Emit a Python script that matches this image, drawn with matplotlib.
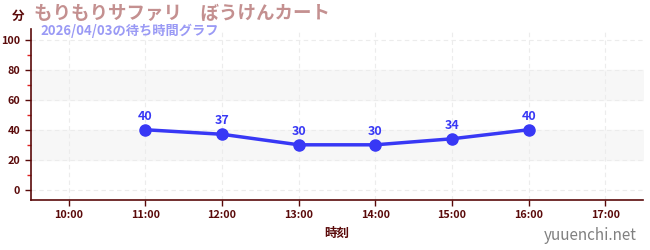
import matplotlib.pyplot as plt
from matplotlib.ticker import MultipleLocator

plt.rcParams['font.family'] = ['Noto Sans CJK JP', 'DejaVu Sans']

hours = [11, 12, 13, 14, 15, 16]
waits = [40, 37, 30, 30, 34, 40]
tick_hours = [10, 11, 12, 13, 14, 15, 16, 17]
tick_labels = ["10:00", "11:00", "12:00", "13:00", "14:00", "15:00", "16:00", "17:00"]
y_ticks = [0, 20, 40, 60, 80, 100]
bands = [(20, 40), (60, 80)]

title = "もりもりサファリ　ぼうけんカート"
subtitle = "2026/04/03の待ち時間グラフ"

axis_color = "#5a0a0a"
line_color = "#3838f5"

fig = plt.figure(figsize=(6.5, 2.5), dpi=100)
ax = fig.add_axes([0.047, 0.2, 0.943, 0.684])

for lo, hi in bands:
    ax.axhspan(lo, hi, color="#f7f7f7", zorder=0)

ax.plot(hours, waits, color=line_color, lw=2.5, marker="o", ms=8, zorder=3)
for h, w in zip(hours, waits):
    ax.annotate(str(w), (h, w), xytext=(0, 5), textcoords="offset points",
                ha="center", va="bottom", color=line_color, fontsize=9,
                fontweight="bold")

ax.set_xlim(9.5, 17.5)
ax.set_ylim(-6.7, 107)
ax.set_xticks(tick_hours)
ax.set_xticklabels(tick_labels)
ax.set_yticks(y_ticks)
ax.yaxis.set_minor_locator(MultipleLocator(10))

ax.grid(True, which="major", color="#ececec", ls=(0, (4, 3)), lw=0.8)
ax.set_axisbelow(True)

for side in ["top", "right"]:
    ax.spines[side].set_visible(False)
for side in ["left", "bottom"]:
    ax.spines[side].set_color(axis_color)
    ax.spines[side].set_linewidth(1.2)

ax.tick_params(axis="both", which="major", colors=axis_color, labelsize=7.8,
               length=4, width=1)
ax.tick_params(axis="y", which="minor", color="#e02020", length=3, width=1)
for lbl in ax.get_xticklabels() + ax.get_yticklabels():
    lbl.set_fontweight("bold")

ax.set_xlabel("時刻", color=axis_color, fontsize=9, fontweight="bold", labelpad=5)

fig.text(0.018, 0.935, "分", color=axis_color, fontsize=9, fontweight="bold",
         va="center")
fig.text(0.052, 0.945, title, color="#c49090", fontsize=13.3, fontweight="bold",
         va="center")
fig.text(0.062, 0.875, subtitle, color="#9a9af5", fontsize=9.5, fontweight="bold",
         va="center")
fig.text(0.98, 0.06, "yuuenchi.net", color="#808080", fontsize=11,
         ha="right", va="center")

fig.savefig("out.png", dpi=100)
